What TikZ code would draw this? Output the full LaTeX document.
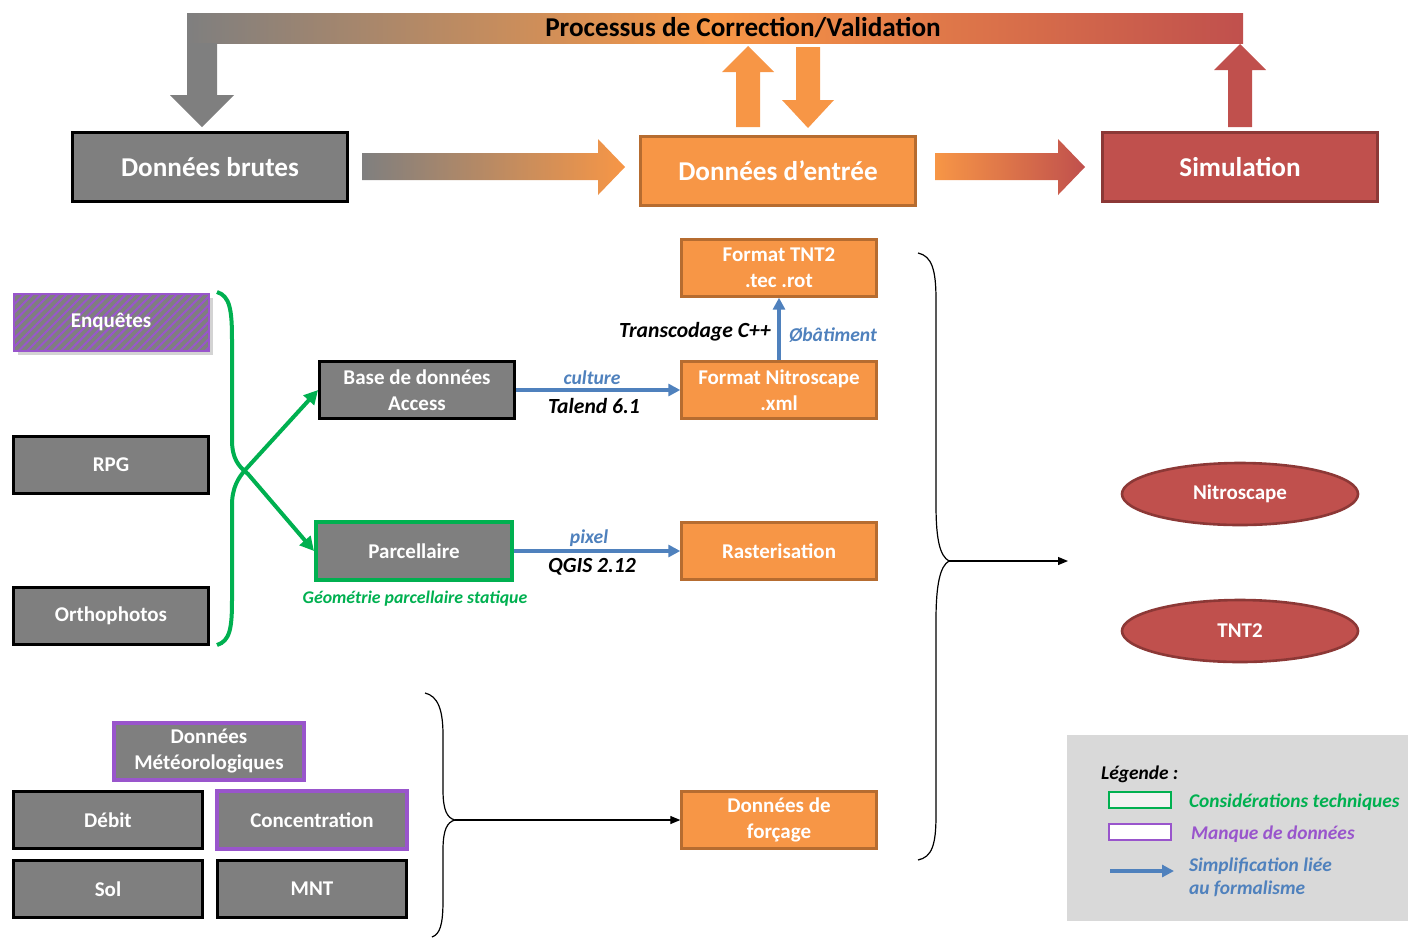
\documentclass[tikz,border=0pt]{standalone}
\usepackage{fontspec}
\setmainfont{Carlito}
\usetikzlibrary{arrows.meta,shapes.geometric,patterns.meta,shadows}

\definecolor{boxgray}{RGB}{127,127,127}
\definecolor{boxorange}{RGB}{247,150,70}
\definecolor{lineorange}{RGB}{182,108,48}
\definecolor{boxred}{RGB}{192,80,77}
\definecolor{linered}{RGB}{140,56,54}
\definecolor{techgreen}{RGB}{0,176,80}
\definecolor{lackpurple}{RGB}{153,85,204}
\definecolor{simblue}{RGB}{79,129,189}
\definecolor{legendgray}{RGB}{217,217,217}

\tikzset{
  bigbox/.style={rectangle, inner sep=0pt, minimum width=137.5pt, minimum height=34.5pt,
    line width=1.5pt, text=white, font=\fontsize{13.6}{16}\selectfont\bfseries},
  databox/.style={rectangle, inner sep=0pt, minimum width=97.5pt, minimum height=28.5pt,
    line width=1.4pt, draw=black, fill=boxgray, text=white, align=center,
    font=\fontsize{10.5}{13}\selectfont\bfseries},
  formatbox/.style={databox, draw=lineorange, fill=boxorange, line width=1.2pt},
  lackbox/.style={databox, draw=lackpurple, line width=2pt},
  modelbox/.style={ellipse, inner sep=0pt, minimum width=118pt, minimum height=31pt,
    line width=1.3pt, draw=linered, fill=boxred, text=white,
    font=\fontsize{10.5}{13}\selectfont\bfseries},
  bluelabel/.style={text=simblue, font=\fontsize{9.8}{11}\selectfont\bfseries\itshape},
  blacklabel/.style={font=\fontsize{10.8}{12}\selectfont\bfseries\itshape},
  legtext/.style={anchor=west, font=\fontsize{9.7}{11.5}\selectfont\bfseries\itshape},
  simarrow/.style={draw=simblue, line width=1.6pt, -{Triangle[length=6pt,width=6pt]}},
  techarrow/.style={draw=techgreen, line width=2pt, -{Triangle[length=7pt,width=7pt]}},
  bracearrow/.style={line width=0.6pt, -{Triangle[length=5pt,width=4pt]}}
}

\begin{document}
\begin{tikzpicture}[x=0.5pt,y=-0.5pt]
\useasboundingbox (0,0) rectangle (1416,938);

% boucle de correction / validation
\shade[left color=boxgray, right color=boxred, middle color=boxorange] (187,13) rectangle (1243,43);
\fill[boxgray] (187,43) -- (187,95) -- (170,95) -- (202,127) -- (234,95) -- (217,95) -- (217,43) -- cycle;
\fill[boxorange] (736,127) -- (736,72) -- (722,72) -- (748,46) -- (774,72) -- (760,72) -- (760,127) -- cycle;
\fill[boxorange] (796,47) -- (796,100) -- (782,100) -- (808,128) -- (834,100) -- (820,100) -- (820,47) -- cycle;
\fill[boxred] (1228,127) -- (1228,70) -- (1214,70) -- (1240,44) -- (1266,70) -- (1252,70) -- (1252,127) -- cycle;
\node[font=\fontsize{13.6}{16}\selectfont\bfseries] (titre) at (743,28) {Processus de Correction/Validation};

% chaine principale
\node[bigbox, draw=black, fill=boxgray] (brutes) at (210,167) {Données brutes};
\node[bigbox, draw=lineorange, fill=boxorange] (entree) at (778,171) {Données d’entrée};
\node[bigbox, draw=linered, fill=boxred] (simulation) at (1240,167) {Simulation};
\shade[left color=boxgray, right color=boxorange] (362,153) -- (598,153) -- (598,139) -- (625,167) -- (598,195) -- (598,180) -- (362,180) -- cycle;
\shade[left color=boxorange, right color=boxred] (935,153) -- (1058,153) -- (1058,139) -- (1085,167) -- (1058,195) -- (1058,180) -- (935,180) -- cycle;

% donnees brutes
\node[databox, draw=lackpurple, line width=1pt, drop shadow={opacity=0.35},
  postaction={pattern={Lines[angle=45,distance=3pt,line width=1pt]}, pattern color=lackpurple}]
  (enquetes) at (111,322) {Enquêtes};
\node[databox] (rpg) at (111,465) {RPG};
\node[databox] (ortho) at (111,616) {Orthophotos};

\node[databox] (base) at (417,390) {Base de données\\Access};
\node[databox, draw=techgreen, line width=2pt, minimum width=98pt, minimum height=29pt] (parcel) at (414,551) {Parcellaire};
\node[text=techgreen, font=\fontsize{8.9}{10}\selectfont\bfseries\itshape] (geomlabel) at (415,599) {Géométrie parcellaire statique};

\coordinate (bracehaut) at (217,292);
\coordinate (bracebas) at (217,645);
\draw[techarrow] (bracehaut) .. controls (230,296) and (232,310) .. (232,340) -- (232,440)
  .. controls (232,458) and (238,466) .. (248,474) -- (parcel.west);
\draw[techarrow] (bracebas) .. controls (230,641) and (232,628) .. (232,600) -- (232,505)
  .. controls (232,488) and (238,478) .. (246,469) -- (base.west);

% formats
\node[formatbox] (tntfmt) at (779,268) {Format TNT2\\.tec .rot};
\node[formatbox] (nitrofmt) at (779,390) {Format Nitroscape\\.xml};
\node[formatbox] (raster) at (779,551) {Rasterisation};
\node[formatbox] (forcage) at (779,820) {Données de\\forçage};

\draw[simarrow] (base.east) -- (nitrofmt.west);
\node[bluelabel] (culture) at (592,378) {culture};
\node[blacklabel] (talend) at (594,406) {Talend 6.1};
\draw[simarrow] (parcel.east) -- (raster.west);
\node[bluelabel] (pixel) at (589,538) {pixel};
\node[blacklabel] (qgis) at (592,567) {QGIS 2.12};
\draw[simarrow] (nitrofmt.north) -- (tntfmt.south);
\node[blacklabel] (transcodage) at (695,332) {Transcodage C++};
\node[bluelabel] (batiment) at (833,335) {Øbâtiment};

% donnees de forcage
\node[lackbox, minimum width=95pt] (meteo) at (209,751) {Données\\Météorologiques};
\node[databox, minimum width=94.5pt] (debit) at (108,820) {Débit};
\node[lackbox, minimum width=95pt, minimum height=29pt] (concentration) at (312,820) {Concentration};
\node[databox, minimum width=94.5pt] (sol) at (108,889) {Sol};
\node[databox, minimum width=94.5pt] (mnt) at (312,889) {MNT};

\coordinate (pointe) at (455,820);
\draw[line width=0.6pt] (425,693) .. controls (438,696) and (443,710) .. (443,735) -- (443,790)
  .. controls (443,810) and (447,818) .. (pointe)
  .. controls (447,822) and (443,830) .. (443,850) -- (443,900)
  .. controls (443,925) and (440,934) .. (432,937);
\draw[bracearrow] (pointe) -- (forcage.west);

% modeles
\node[modelbox] (nitroscape) at (1240,494) {Nitroscape};
\node[modelbox] (tnt) at (1240,631) {TNT2};

\coordinate (sommet) at (949,561);
\coordinate (cible) at (1068,561);
\draw[line width=0.6pt] (918,253) .. controls (932,256) and (936,270) .. (936,300) -- (936,505)
  .. controls (936,540) and (940,556) .. (sommet)
  .. controls (940,566) and (936,585) .. (936,620) -- (936,815)
  .. controls (936,845) and (932,857) .. (918,860);
\draw[bracearrow] (sommet) -- (cible);

% legende
\node[rectangle, fill=legendgray, minimum width=170.5pt, minimum height=93pt, inner sep=0pt] (legende) at (1237.5,828) {};
\node[legtext] (legtitre) at (1094,774) {Légende~:};
\node[rectangle, draw=techgreen, fill=white!95!black, line width=1.4pt, minimum width=31pt, minimum height=8pt, inner sep=0pt] (legtech) at (1140,800) {};
\node[legtext, text=techgreen] (legtechtxt) at (1182,802) {Considérations techniques};
\node[rectangle, draw=lackpurple, fill=white, line width=1.4pt, minimum width=31pt, minimum height=8pt, inner sep=0pt] (legmanque) at (1140,832) {};
\node[legtext, text=lackpurple] (legmanquetxt) at (1184,834) {Manque de données};
\coordinate (legdebut) at (1110,871);
\coordinate (legfin) at (1174,871);
\draw[simarrow] (legdebut) -- (legfin);
\node[legtext, align=left, text=simblue] (legsimtxt) at (1182,877) {Simplification liée\\au formalisme};
\end{tikzpicture}
\end{document}
